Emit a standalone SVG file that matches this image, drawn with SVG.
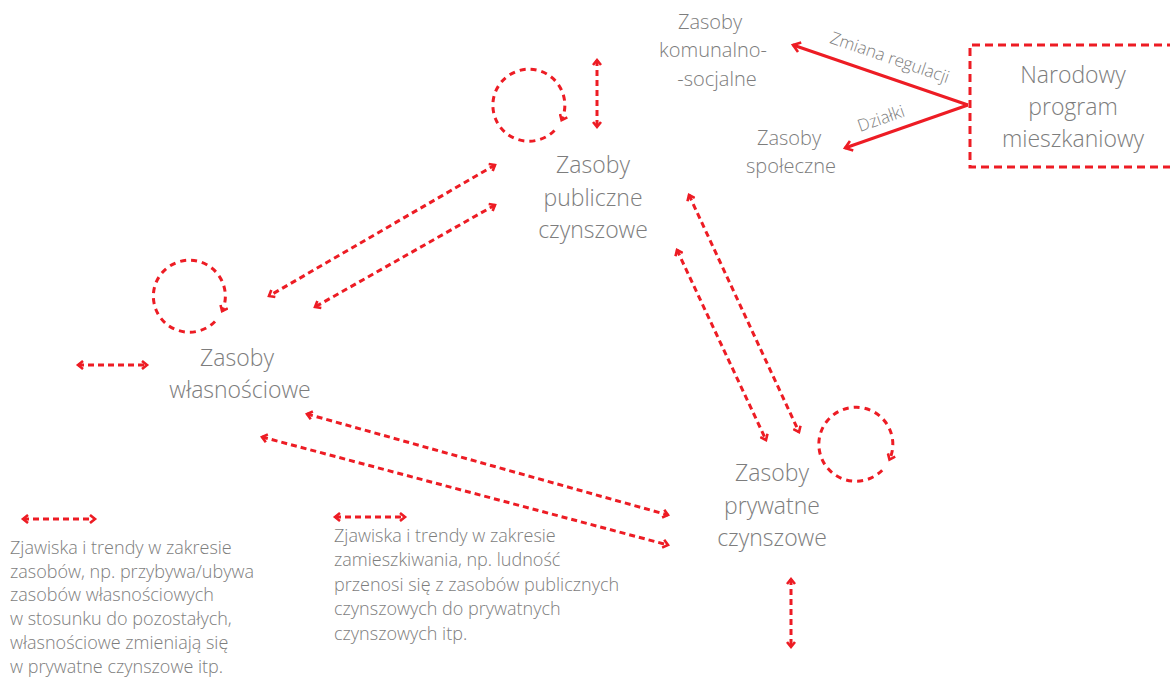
<svg xmlns="http://www.w3.org/2000/svg" width="1170" height="682" viewBox="0 0 1170 682">
<style>
.bg{fill:#ffffff}
.dash{fill:none;stroke:#ed1c24;stroke-width:3;stroke-dasharray:6 4;marker-start:url(#ah);marker-end:url(#ah)}
.loop{fill:none;stroke:#ed1c24;stroke-width:3;stroke-dasharray:6 5;marker-end:url(#ah)}
.solid{fill:none;stroke:#ed1c24;stroke-width:3;marker-end:url(#ah2)}
.box{fill:none;stroke:#ed1c24;stroke-width:3;stroke-dasharray:8 5}
text{font-family:"Open Sans","Liberation Sans",sans-serif;font-weight:300;fill:#7d7d7d}
.n{font-size:23px;text-anchor:middle}
.s{font-size:20px;text-anchor:middle}
.l{font-size:18px}
.lab{font-size:17px;text-anchor:middle}
</style>
<defs>
<marker id="ah" viewBox="0 0 10 10" refX="7" refY="5" markerWidth="10" markerHeight="10" markerUnits="userSpaceOnUse" orient="auto-start-reverse">
<path d="M2,1 L7,5 L2,9" fill="none" stroke="#ed1c24" stroke-width="2.6"/>
</marker>
<marker id="ah2" viewBox="0 0 12 12" refX="9" refY="6" markerWidth="12" markerHeight="12" markerUnits="userSpaceOnUse" orient="auto">
<path d="M2,1 L9,6 L2,11" fill="none" stroke="#ed1c24" stroke-width="2.6"/>
</marker>
</defs>
<rect class="bg" x="0" y="0" width="1170" height="682"/>

<g id="connectors">
<path class="dash" d="M597,60 L597,127"/>
<path class="dash" d="M495,165 L269,296"/>
<path class="dash" d="M495,205 L315,307"/>
<path class="dash" d="M689,195 L799,432"/>
<path class="dash" d="M677,250 L766,440"/>
<path class="dash" d="M307,414 L668,515"/>
<path class="dash" d="M262,437 L668,545"/>
<path class="dash" d="M78,365 L147,365"/>
<path class="dash" d="M791,579 L791,647"/>
<path class="loop" d="M554.5,130.5 A36,36 0 1 1 561.6,120.2"/>
<path class="loop" d="M215,321.5 A36,36 0 1 1 222.1,311.2"/>
<path class="loop" d="M882.2,470.2 A37,37 0 1 1 889.5,459.6"/>
<path class="solid" d="M968,105 L793,45"/>
<path class="solid" d="M968,105 L845,148"/>
<text class="lab" transform="translate(888,63) rotate(18.9)">Zmiana regulacji</text>
<text class="lab" transform="translate(883,124) rotate(-19.4)">Działki</text>
</g>

<g id="node-publiczne">
<text class="n" x="593" y="173">Zasoby</text>
<text class="n" x="593" y="206">publiczne</text>
<text class="n" x="593" y="238">czynszowe</text>
</g>
<g id="node-wlasnosciowe">
<text class="n" x="237" y="366">Zasoby</text>
<text class="n" x="240" y="398">własnościowe</text>
</g>
<g id="node-prywatne">
<text class="n" x="772" y="481">Zasoby</text>
<text class="n" x="772" y="514">prywatne</text>
<text class="n" x="772" y="546">czynszowe</text>
</g>
<g id="node-komunalno">
<text class="s" x="710" y="29">Zasoby</text>
<text class="s" x="713" y="57">komunalno-</text>
<text class="s" x="717" y="86">-socjalne</text>
</g>
<g id="node-spoleczne">
<text class="s" x="789" y="145">Zasoby</text>
<text class="s" x="791" y="173">społeczne</text>
</g>
<g id="node-narodowy">
<path class="box" d="M1175,45 L970,45 L970,167 L1175,167"/>
<text class="n" x="1073" y="83">Narodowy</text>
<text class="n" x="1073" y="115">program</text>
<text class="n" x="1073" y="147">mieszkaniowy</text>
</g>

<g id="legend-1">
<path class="dash" d="M23,519 L95,519"/>
<text class="l" x="10" y="554">Zjawiska i trendy w zakresie</text>
<text class="l" x="10" y="578">zasobów, np. przybywa/ubywa</text>
<text class="l" x="10" y="601">zasobów własnościowych</text>
<text class="l" x="10" y="625">w stosunku do pozostałych,</text>
<text class="l" x="10" y="649">własnościowe zmieniają się</text>
<text class="l" x="10" y="673">w prywatne czynszowe itp.</text>
</g>
<g id="legend-2">
<path class="dash" d="M335,517 L405,517"/>
<text class="l" x="334" y="542">Zjawiska i trendy w zakresie</text>
<text class="l" x="334" y="566">zamieszkiwania, np. ludność</text>
<text class="l" x="334" y="591">przenosi się z zasobów publicznych</text>
<text class="l" x="334" y="615">czynszowych do prywatnych</text>
<text class="l" x="334" y="640">czynszowych itp.</text>
</g>
</svg>
